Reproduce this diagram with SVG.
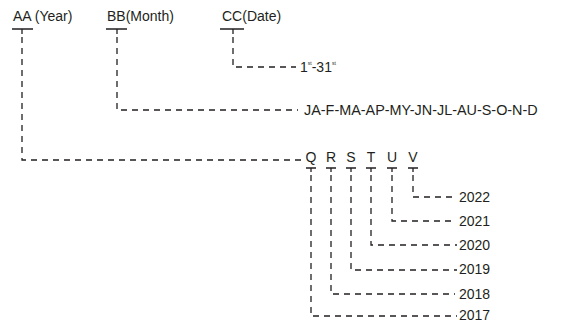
<svg xmlns="http://www.w3.org/2000/svg" width="569" height="323" viewBox="0 0 569 323">
<style>
text{font-family:"Liberation Sans",Arial,sans-serif;font-size:14px;fill:#231f20}
.t{stroke:#231f20;stroke-width:1.3;fill:none}
.d{stroke:#231f20;stroke-width:1.3;fill:none;stroke-dasharray:6 5}
</style>
<rect width="569" height="323" fill="#fff"/>
<g id="aa"><text x="13" y="21">AA (Year)</text><path class="t" d="M12,29H33M22,29V34"/></g>
<g id="bb"><text x="107" y="21">BB(Month)</text><path class="t" d="M106,29H127M117,29V34"/></g>
<g id="cc"><text x="222" y="21">CC(Date)</text><path class="t" d="M220,29H244M233,29V34"/></g>
<g id="date"><text x="300" y="72">1<tspan font-size="5" dy="-7">st</tspan><tspan dy="7">-31</tspan><tspan font-size="5" dy="-7">st</tspan></text></g>
<g id="month"><text x="304" y="115" style="font-size:14.4px">JA-F-MA-AP-MY-JN-JL-AU-S-O-N-D</text></g>
<g id="q"><text x="311" y="162" text-anchor="middle">Q</text><path class="t" d="M306,168H316M311,168V172"/></g>
<g id="r"><text x="331" y="162" text-anchor="middle">R</text><path class="t" d="M326,168H336M331,168V172"/></g>
<g id="s"><text x="351" y="162" text-anchor="middle">S</text><path class="t" d="M346,168H356M351,168V172"/></g>
<g id="t"><text x="371" y="162" text-anchor="middle">T</text><path class="t" d="M366,168H376M371,168V172"/></g>
<g id="u"><text x="392" y="162" text-anchor="middle">U</text><path class="t" d="M387,168H397M392,168V172"/></g>
<g id="v"><text x="413" y="162" text-anchor="middle">V</text><path class="t" d="M408,168H418M413,168V172"/></g>
<g id="y2022"><text x="459" y="202">2022</text></g>
<g id="y2021"><text x="459" y="226">2021</text></g>
<g id="y2020"><text x="459" y="250">2020</text></g>
<g id="y2019"><text x="459" y="274">2019</text></g>
<g id="y2018"><text x="459" y="299">2018</text></g>
<g id="y2017"><text x="459" y="320">2017</text></g>
<g id="connectors">
<path class="d" d="M22,37V160H302"/>
<path class="d" d="M117,37V110H298"/>
<path class="d" d="M233,37V67H296"/>
<path class="d" d="M311,175V316H457"/>
<path class="d" d="M331,175V294H455"/>
<path class="d" d="M351,175V270H457"/>
<path class="d" d="M371,175V245H457"/>
<path class="d" d="M392,175V221H455"/>
<path class="d" d="M413,175V197H457"/>
</g>
</svg>
